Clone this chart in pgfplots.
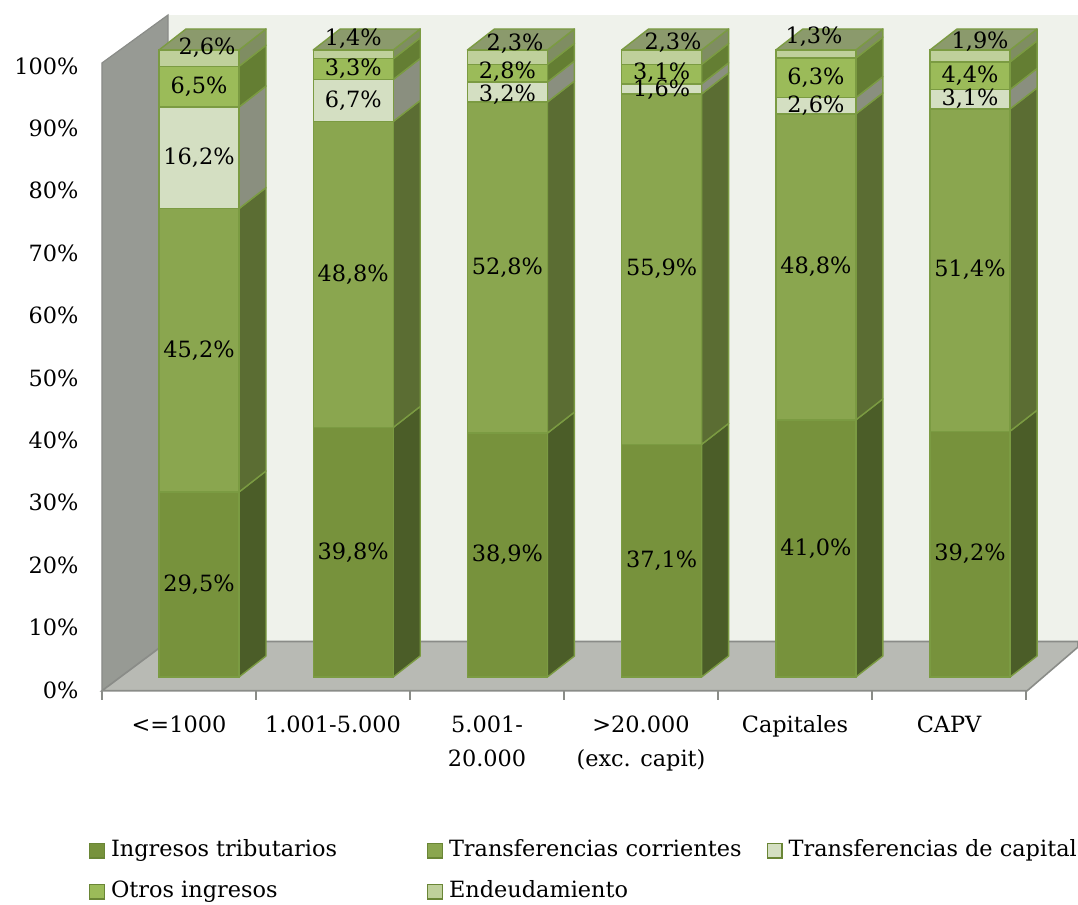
\documentclass[border=0pt]{standalone}
\usepackage{fontspec}
\usepackage{pgfplots}
\pgfplotsset{compat=1.18}
\usepackage{pgfplotstable}
\setmainfont{DejaVu Serif}

\definecolor{fTrib}{HTML}{77923C}
\definecolor{sTrib}{HTML}{4B5D28}
\definecolor{fCorr}{HTML}{8AA64F}
\definecolor{sCorr}{HTML}{5B6D33}
\definecolor{fCap}{HTML}{D4DFC2}
\definecolor{sCap}{HTML}{8A8F7F}
\definecolor{fOtr}{HTML}{9BBB59}
\definecolor{sOtr}{HTML}{647E33}
\definecolor{fEnd}{HTML}{BFD09B}
\definecolor{sEnd}{HTML}{7F8D62}
\definecolor{topC}{HTML}{8B9A6C}
\definecolor{edgeC}{HTML}{7B9B42}
\definecolor{edgeD}{HTML}{6A8636}
\definecolor{backW}{HTML}{EFF2EB}
\definecolor{leftW}{HTML}{979A94}
\definecolor{floorC}{HTML}{B8BAB4}
\definecolor{wallEdge}{HTML}{8A8C88}

\newcommand\lblfont{\fontsize{11.2}{17}\selectfont}

\pgfplotstableread{
x trib corr cap otros endeu
0 29.5 45.2 16.2 6.5 2.6
1 39.8 48.8 6.7 3.3 1.4
2 38.9 52.8 3.2 2.8 2.3
3 37.1 55.9 1.6 3.1 2.3
4 41.0 48.8 2.6 6.3 1.3
5 39.2 51.4 3.1 4.4 1.9
}\datatable

\pgfplotstableread{
x y lab
0 14.75 29,5
0 52.1 45,2
0 82.8 16,2
0 94.15 6,5
0.052 100.3 2,6
1 19.9 39,8
1 64.2 48,8
1 91.95 6,7
1 96.95 3,3
1 101.75 1,4
2 19.45 38,9
2 65.3 52,8
2 92.9 3,2
2 96.6 2,8
2.049 100.96 2,3
3 18.55 37,1
3 65.05 55,9
3 93.7 1,6
3 96.3 3,1
3.074 101.1 2,3
4 20.5 41,0
4 65.4 48,8
4 91.1 2,6
4 95.55 6,3
3.988 102.1 1,3
5 19.6 39,2
5 64.9 51,4
5 92.15 3,1
5 95.9 4,4
5.065 101.3 1,9
}\labeltable

\pgfplotsset{
  sq legend/.style={legend image code/.code={\draw[##1, draw=edgeD, line width=0.6pt] (0pt,-3.7pt) rectangle (7.4pt,3.7pt);}},
  common/.style={at={(51pt,107.1pt)}, anchor=south west, scale only axis,
    width=488pt, height=337.9pt, xmin=-0.629, xmax=5.700, ymin=-2.2, ymax=105.58, clip=false},
}

% side face of one segment, between cumulative values #1 and #2
\newcommand\sideface[3]{%
  \pgfmathsetmacro\ya{#1}\pgfmathsetmacro\yb{#2}%
  \pgfmathsetmacro\yc{#2+3.35}\pgfmathsetmacro\yd{#1+3.35}%
  \edef\tmp{\noexpand\addplot[fill=#3, draw=edgeC, line width=0.7pt, line join=round] coordinates {(\xa,\ya) (\xb,\yd) (\xb,\yc) (\xa,\yb)} --cycle;}\tmp
}
\newcommand\drawbarsides[1]{%
  \pgfplotstablegetelem{#1}{trib}\of\datatable \pgfmathsetmacro\cA{\pgfplotsretval}%
  \pgfplotstablegetelem{#1}{corr}\of\datatable \pgfmathsetmacro\cB{\cA+\pgfplotsretval}%
  \pgfplotstablegetelem{#1}{cap}\of\datatable \pgfmathsetmacro\cC{\cB+\pgfplotsretval}%
  \pgfplotstablegetelem{#1}{otros}\of\datatable \pgfmathsetmacro\cD{\cC+\pgfplotsretval}%
  \pgfplotstablegetelem{#1}{endeu}\of\datatable \pgfmathsetmacro\cE{\cD+\pgfplotsretval}%
  \pgfmathsetmacro\xa{#1+0.2594}\pgfmathsetmacro\xb{#1+0.4345}%
  \pgfmathsetmacro\xl{#1-0.2594}\pgfmathsetmacro\xlb{#1-0.0843}%
  \sideface{0}{\cA}{sTrib}%
  \sideface{\cA}{\cB}{sCorr}%
  \sideface{\cB}{\cC}{sCap}%
  \sideface{\cC}{\cD}{sOtr}%
  \sideface{\cD}{\cE}{sEnd}%
  \pgfmathsetmacro\yt{\cE}\pgfmathsetmacro\ytb{\cE+3.35}%
  \edef\tmp{\noexpand\addplot[fill=topC, draw=edgeC, line width=0.7pt, line join=round] coordinates {(\xl,\yt) (\xlb,\ytb) (\xb,\ytb) (\xa,\yt)} --cycle;}\tmp
}

\begin{document}
\begin{tikzpicture}
\path[use as bounding box] (0,0) rectangle (539pt,452.5pt);

% ---- walls, floor, ticks, side and top faces
\begin{axis}[common,
  axis line style={draw=none},
  tick align=outside,
  major tick length=0pt,
  minor tick length=4.5pt,
  xtick={-0.1297,0.869,1.8677,2.8664,3.8651,4.8638},
  xticklabels={{<=1000},{1.001-5.000},{5.001-\\20.000},{>20.000\\(exc. capit)},{Capitales},{CAPV}},
  minor xtick={-0.629,0.3697,1.3684,2.3671,3.3658,4.3645,5.3632},
  xtick pos=left, ytick pos=left,
  every minor tick/.append style={draw=wallEdge, line width=0.8pt},
  ytick={-2.07,7.882,17.834,27.786,37.738,47.69,57.642,67.594,77.546,87.498,97.45},
  yticklabels={0\%,10\%,20\%,30\%,40\%,50\%,60\%,70\%,80\%,90\%,100\%},
  ticklabel style={font=\lblfont, text=black},
  xticklabel style={align=center, yshift=-8.8pt},
  yticklabel style={xshift=-8.3pt},
]
\addplot[fill=backW, draw=none] coordinates {(-0.201,5.66) (5.700,5.66) (5.700,105.58) (-0.201,105.58)} --cycle;
\addplot[fill=leftW, draw=wallEdge, line width=0.6pt] coordinates {(-0.629,-2.2) (-0.629,97.93) (-0.201,105.58) (-0.201,5.66)} --cycle;
\addplot[fill=floorC, draw=wallEdge, line width=0.8pt] coordinates {(-0.629,-2.2) (5.370,-2.2) (5.700,4.78) (5.700,5.66) (-0.201,5.66)} --cycle;
\drawbarsides{0}
\drawbarsides{1}
\drawbarsides{2}
\drawbarsides{3}
\drawbarsides{4}
\drawbarsides{5}
\end{axis}

% ---- front faces of the stacked bars and legend
\begin{axis}[common, hide axis,
  ybar stacked, bar width=40pt,
  legend columns=3,
  legend cell align=left,
  legend style={at={(axis description cs:-0.0133,-0.2208)}, anchor=north west,
    draw=none, fill=none, inner sep=0pt, outer sep=0pt, font=\lblfont,
    row sep=10pt,
    nodes={inner sep=0pt, text height=8pt, text depth=2.5pt},
    /tikz/column 1/.style={column sep=3pt},
    /tikz/column 2/.style={column sep=45pt},
    /tikz/column 3/.style={column sep=3pt},
    /tikz/column 4/.style={column sep=12.5pt},
    /tikz/column 5/.style={column sep=3pt}},
]
\addplot[fill=fTrib, draw=edgeC, line width=0.7pt, sq legend] table[x=x,y=trib]{\datatable};
\addlegendentry{Ingresos tributarios}
\addplot[fill=fCorr, draw=edgeC, line width=0.7pt, sq legend] table[x=x,y=corr]{\datatable};
\addlegendentry{Transferencias corrientes}
\addplot[fill=fCap, draw=edgeC, line width=0.7pt, sq legend] table[x=x,y=cap]{\datatable};
\addlegendentry{Transferencias de capital}
\addplot[fill=fOtr, draw=edgeC, line width=0.7pt, sq legend] table[x=x,y=otros]{\datatable};
\addlegendentry{Otros ingresos}
\addplot[fill=fEnd, draw=edgeC, line width=0.7pt, sq legend] table[x=x,y=endeu]{\datatable};
\addlegendentry{Endeudamiento}
\end{axis}

% ---- data labels
\begin{axis}[common, hide axis]
\addplot[only marks, mark=*, mark size=0pt, mark options={draw=none, fill=none},
  point meta=explicit symbolic,
  nodes near coords={\pgfplotspointmeta\%},
  every node near coord/.append style={anchor=center, inner sep=0pt, font=\lblfont, text=black}]
  table[x=x, y=y, meta=lab]{\labeltable};
\end{axis}
\end{tikzpicture}
\end{document}
